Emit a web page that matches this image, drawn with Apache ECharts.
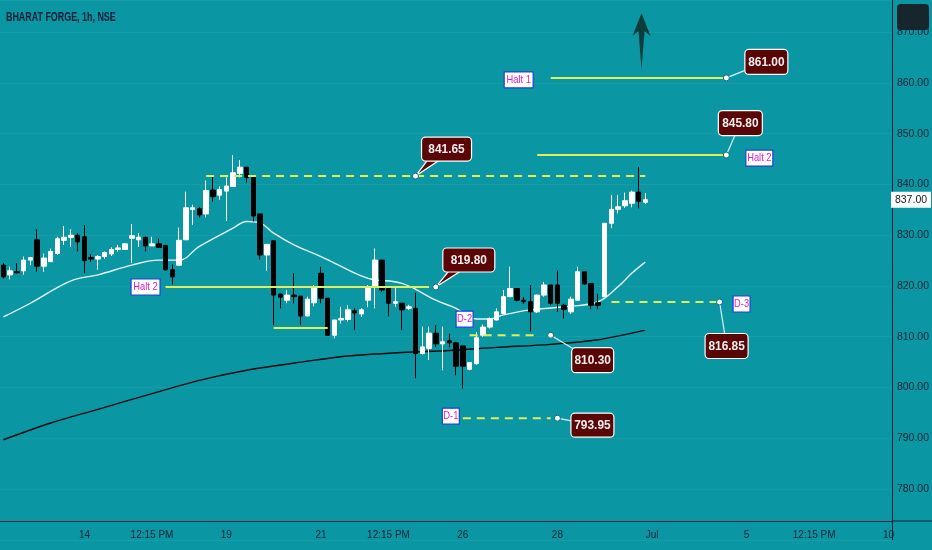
<!DOCTYPE html>
<html><head><meta charset="utf-8">
<script src="https://cdn.jsdelivr.net/npm/echarts@6/dist/echarts.min.js"></script>
<style>html,body{margin:0;padding:0;background:#0a97a3;}#c{width:932px;height:550px;}</style>
</head><body><div id="c"></div>
<script>
// ---- categories (hourly NSE bars) ----
const tradingDays = ['06-12','06-13','06-14','06-15','06-16','06-19','06-20','06-21','06-22','06-23','06-26','06-27','06-28','06-30','07-03','07-04','07-05','07-06','07-07','07-10'];
const sessionHours = ['09:15','10:15','11:15','12:15','13:15','14:15','15:15'];
const xTickLabels = {'06-14 09:15':'14','06-15 12:15':'12:15 PM','06-19 09:15':'19','06-21 09:15':'21','06-22 12:15':'12:15 PM','06-26 09:15':'26','06-28 09:15':'28','07-03 09:15':'Jul','07-05 09:15':'5','07-06 12:15':'12:15 PM','07-10 09:15':'10'};
const titleText = 'BHARAT FORGE, 1h, NSE';

// ---- OHLC values ----
const opens  = [824.1,822.2,822.8,823.0,825.1,829.1,823.9,824.8,826.4,829.0,829.6,830.0,829.7,825.6,825.3,825.8,826.3,827.2,827.2,829.4,829.1,829.6,827.9,828.3,828.0,823.2,824.1,829.1,835.1,835.2,834.2,838.9,837.9,838.7,839.6,842.2,843.4,841.4,834.2,826.1,828.9,818.4,817.2,818.2,818.0,814.1,816.7,822.5,817.6,810.3,813.3,813.4,815.1,814.5,817.2,819.9,825.1,819.5,816.6,816.6,815.6,815.6,806.7,807.7,810.7,808.6,809.2,808.8,808.2,803.6,804.7,810.3,811.9,813.3,814.6,817.9,819.5,817.2,816.9,814.9,818.2,820.2,820.2,816.2,814.9,817.2,822.8,820.5,816.7,817.9,832.35,835.1,835.8,836.3,838.5,836.5];
const closes = [821.8,823.0,822.6,825.1,825.6,823.9,825.5,826.8,829.3,829.6,830.0,828.7,825.0,825.3,825.8,826.6,827.2,827.5,828.3,829.9,829.6,827.9,828.3,827.6,823.2,821.8,829.0,835.4,835.4,834.0,838.8,837.6,839.0,839.7,842.3,843.4,841.4,833.8,826.1,828.2,818.2,817.8,818.2,817.9,814.1,817.4,819.9,817.6,810.3,813.3,813.6,815.3,814.7,815.3,819.9,825.1,819.2,816.6,816.9,815.3,815.9,806.7,808.0,810.7,808.6,809.0,808.8,804.2,804.2,804.9,809.8,811.9,813.6,814.9,817.9,819.5,817.2,816.9,814.9,818.2,820.2,816.6,816.6,815.4,817.4,822.8,820.4,816.2,816.2,832.35,835.1,835.6,836.8,838.5,836.7,837.0];
const lows   = [821.5,821.3,822.5,822.2,824.1,822.8,822.8,824.7,826.1,828.1,827.7,826.8,822.5,824.8,823.2,825.4,825.9,826.8,827.1,824.5,827.7,826.8,827.9,827.6,823.0,820.3,824.1,829.1,832.0,833.5,833.5,836.6,837.0,832.8,839.6,841.4,840.4,832.7,825.2,823.0,812.3,815.6,816.6,816.6,812.3,814.0,816.0,816.6,810.3,809.7,812.6,813.0,811.3,813.9,815.8,815.6,818.8,814.0,815.9,811.3,815.3,801.8,806.5,805.4,808.0,803.4,807.9,802.4,799.8,803.4,804.5,810.0,811.6,813.2,814.5,817.8,817.0,816.5,811.0,814.7,817.9,816.3,814.9,813.6,814.5,817.2,820.2,815.4,815.4,817.9,831.4,834.3,835.4,835.5,835.3,836.2];
const highs  = [824.5,823.8,824.5,825.8,825.6,831.2,826.4,827.4,829.7,831.8,831.2,830.4,832.0,826.3,826.1,826.8,827.6,828.1,828.4,832.2,830.4,829.7,829.7,829.4,828.0,824.3,831.5,838.6,836.0,835.6,840.8,841.9,839.6,841.4,845.8,844.8,843.4,841.9,834.2,828.2,828.9,818.5,819.2,822.5,818.0,817.9,820.2,823.8,817.6,813.3,815.9,816.2,815.6,815.6,820.2,827.4,825.1,819.5,819.9,816.6,816.3,818.7,812.0,812.0,812.3,812.0,810.6,808.9,808.2,805.0,810.9,812.4,813.8,815.6,819.2,823.8,819.6,817.8,820.2,818.3,820.8,820.2,823.1,816.5,817.9,823.8,822.9,820.5,818.5,832.4,837.9,837.9,838.4,838.8,843.4,838.3];

// ---- moving-average lines (bar index -> value) ----
const fastMaIdx = [0,4,10,14,19,23,26,29,34,36,38,40,43,47,49,54,59,64,67,70,72,74,78,83,88,91,93,95];
const fastMaVal = [813.9,816.6,821.0,822.2,824.1,825.1,825.1,827.8,831.4,832.7,832.4,830.4,828.1,825.8,824.5,821.5,820.5,817.2,815.6,813.5,813.5,814.3,815.3,815.9,816.9,819.9,822.5,824.7];
const slowMaIdx = [0,7,14,22,29,36,44,51,59,66,73,81,88,95];
const slowMaVal = [789.7,793.0,795.7,798.8,801.4,803.4,805.0,806.2,806.9,807.3,807.9,808.5,809.4,811.3];

// ---- drawn levels ----
const levelValues = [861.00, 845.80, 841.65, 819.80, 811.70, 816.85, 810.30, 793.95];
const levelFrom   = [81, 79, 30, 24, 40, 90, 69, 68];
const levelTo     = [107, 107, 95, 63, 48, 106, 79, 81];
const levelAnchor = [107, 107, 61, 64, null, 106, 81, 82];
const levelTags   = ['Halt 1', 'Halt 2', null, 'Halt 2', null, 'D-3', 'D-2', 'D-1'];
const arrowIdx = 94, arrowTipValue = 873.8, arrowBaseValue = 862.6;

// ---- build ----
const categories = [];
tradingDays.forEach(d => sessionHours.forEach(h => categories.push(d + ' ' + h)));
categories.splice(0, 2);
categories.length = 132;

const ohlc = opens.map((o, i) => [o, closes[i], lows[i], highs[i]]);
function sparse(idx, val) { const a = new Array(opens.length).fill(null); idx.forEach((k, j) => a[k] = val[j]); return a; }

const FONT = '"Liberation Sans", Arial, sans-serif';
const AX = '#0f2230';
const chart = echarts.init(document.getElementById('c'));
chart.setOption({
  backgroundColor: '#0a97a3',
  animation: false,
  grid: { left: -0.5, right: 40, top: 0, bottom: 10.25 },
  xAxis: {
    type: 'category', data: categories, boundaryGap: true, offset: -19,
    axisLine: { lineStyle: { color: '#0b2530', width: 1 } }, axisTick: { show: false },
    axisLabel: { interval: (i, v) => v in xTickLabels, formatter: v => xTickLabels[v] || '', color: AX, fontSize: 10, fontFamily: FONT, margin: 9 },
    splitLine: { show: false }
  },
  yAxis: {
    type: 'value', position: 'right', min: 770, max: 876.35, interval: 10,
    axisLine: { show: true, lineStyle: { color: '#0b2530' } }, axisTick: { show: false },
    axisLabel: { formatter: v => (v <= 770 || Math.abs(v % 10) > 0.01) ? '' : v.toFixed(2), color: AX, fontSize: 10.5, fontFamily: FONT, margin: 5 },
    splitLine: { show: true, lineStyle: { color: 'rgba(255,255,255,0.05)' } }
  },
  series: [
    { type: 'candlestick', data: ohlc, barWidth: 5,
      itemStyle: { color: '#ffffff', color0: '#000000', borderColor: '#ffffff', borderColor0: '#000000', borderWidth: 1 } },
    { type: 'line', data: sparse(fastMaIdx, fastMaVal), connectNulls: true, smooth: 0.4, showSymbol: false, lineStyle: { color: '#e4f6f6', width: 1.4 }, z: 1 },
    { type: 'line', data: sparse(slowMaIdx, slowMaVal), connectNulls: true, smooth: 0.3, showSymbol: false, lineStyle: { color: '#0a0a0a', width: 1.4 }, z: 1 }
  ]
});

// ---- annotation layer positioned through the chart's axes ----
const P = (i, v) => chart.convertToPixel({ gridIndex: 0 }, [i, v]);
const YEL = '#e2ee58';
const dashedSet = { 2: true, 5: true, 6: true, 7: true };
const boxOff = [[40,-16],[14,-32],[31,-27],[33,-27],null,[7,44],[42,25],[35,7]];
const boxSize = [[43,25],[44,25],[50,24],[52,24],null,[43,25],[42,25],[43,24]];
const spike = { 2: true, 3: true };
const tagPlace = [['start',-32,2,29],['anchor',33,3,27],null,['start',-20,0,29],null,['anchor',22,2,17],['start',-5,-16,17],['start',-12,-2,17]];
const g = [];
g.push({ type: 'text', z: 90, x: 6, y: 17, scaleX: 0.66, style: { text: titleText, fill: '#0e1b33', fontSize: 13.5, fontWeight: 'bold', fontFamily: FONT, verticalAlign: 'middle' } });
levelValues.forEach((v, k) => {
  const a = P(levelFrom[k], v), b = P(levelTo[k], v);
  g.push({ type: 'line', z: 50, shape: { x1: a[0], y1: a[1], x2: b[0], y2: b[1] },
    style: { stroke: YEL, lineWidth: 2, lineDash: dashedSet[k] ? [8, 6] : null } });
  if (levelAnchor[k] != null) {
    const c = P(levelAnchor[k], v);
    const [ox, oy] = boxOff[k], [bw, bh] = boxSize[k];
    const bx = c[0] + ox - bw / 2, by = c[1] + oy - bh / 2;
    if (spike[k]) {
      g.push({ type: 'polygon', z: 60, shape: { points: [[bx + 6, by + bh - 1], [bx + 18, by + bh - 1], [c[0], c[1]]] }, style: { fill: '#5a0606', stroke: '#ffffff', lineWidth: 1.2 } });
    } else {
      g.push({ type: 'line', z: 60, shape: { x1: c[0], y1: c[1], x2: c[0] + ox, y2: c[1] + oy }, style: { stroke: '#d6f2f4', lineWidth: 1.2 } });
    }
    g.push({ type: 'circle', z: 62, shape: { cx: c[0], cy: c[1], r: 3 }, style: { fill: '#ffffff', stroke: '#0b6a78', lineWidth: 1 } });
    g.push({ type: 'rect', z: 64, shape: { x: bx, y: by, width: bw, height: bh, r: 4 }, style: { fill: '#5a0606', stroke: '#ffffff', lineWidth: 1.2 } });
    g.push({ type: 'text', z: 66, x: bx + bw / 2, y: by + bh / 2, scaleX: 0.88, style: { text: v.toFixed(2), fill: '#f6eeee', fontSize: 13.5, fontWeight: 'bold', fontFamily: FONT, align: 'center', verticalAlign: 'middle' } });
  }
  if (levelTags[k]) {
    const [ref, dx, dy, tw] = tagPlace[k];
    const r = ref === 'start' ? a : P(levelAnchor[k], v);
    const cx = r[0] + dx, cy = r[1] + dy;
    g.push({ type: 'rect', z: 64, shape: { x: cx - tw / 2, y: cy - 8, width: tw, height: 16 }, style: { fill: '#ffffff', stroke: '#1f3fd6', lineWidth: 1.2 } });
    g.push({ type: 'text', z: 66, x: cx, y: cy, scaleX: 0.85, style: { text: levelTags[k], fill: '#e21bd2', fontSize: 11, fontFamily: FONT, align: 'center', verticalAlign: 'middle' } });
  }
});
// up arrow
const tip = P(arrowIdx, arrowTipValue), base = P(arrowIdx, arrowBaseValue);
const ax = tip[0] + 3, hy = tip[1];
g.push({ type: 'polygon', z: 70, shape: { points: [[ax, hy], [ax + 9, hy + 23], [ax + 3, hy + 18], [ax, base[1]], [ax - 3, hy + 18], [ax - 9, hy + 23]] }, style: { fill: '#0c3d3a' } });
// last price tag
const lp = P(opens.length - 1, closes[closes.length - 1]);
g.push({ type: 'rect', z: 80, shape: { x: 891, y: lp[1] - 8, width: 40, height: 16 }, style: { fill: '#ffffff' } });
g.push({ type: 'text', z: 81, x: 911, y: lp[1], style: { text: closes[closes.length - 1].toFixed(2), fill: '#131722', fontSize: 10.5, fontFamily: FONT, align: 'center', verticalAlign: 'middle' } });
// axis chrome
g.push({ type: 'line', z: 80, shape: { x1: 892, y1: 521, x2: 932, y2: 521 }, style: { stroke: '#0b2530', lineWidth: 1 } });
g.push({ type: 'rect', z: 90, shape: { x: 897, y: 4, width: 32, height: 26, r: 4 }, style: { fill: '#16262c' } });
chart.setOption({ graphic: g });
</script></body></html>
